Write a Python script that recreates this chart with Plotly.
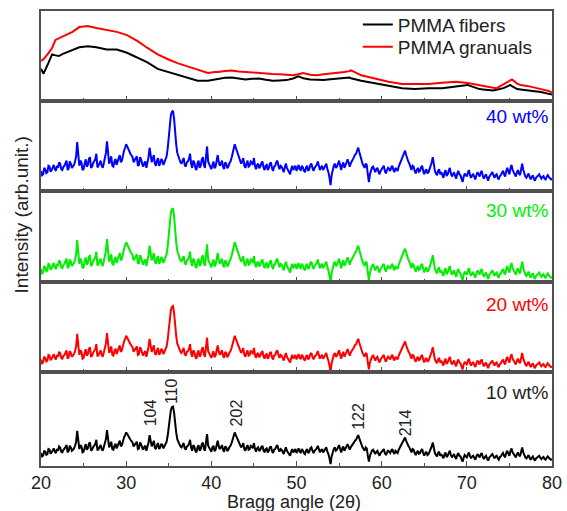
import plotly.graph_objects as go
from plotly.subplots import make_subplots

# ---------------- data ----------------
# PMMA reference patterns (top panel), arbitrary units
pmma_angle = [20.0, 20.3, 20.9, 21.3, 21.7, 22.1, 22.5, 22.9, 23.7, 24.5, 25.5, 26.5, 27.7, 28.9, 30.1,
              31.3, 32.5, 33.7, 34.9, 36.1, 37.3, 38.4, 39.6, 40.4, 40.8, 41.6, 42.4, 43.2, 44.0,
              44.8, 45.6, 46.4, 47.2, 48.0, 48.8, 49.6, 50.2, 50.8, 51.6, 52.4, 53.2, 54.0,
              54.8, 55.6, 56.2, 56.4, 57.6, 59.2, 60.8, 62.4, 63.9, 65.5, 67.1, 68.7, 70.1,
              70.3, 71.5, 71.9, 73.1, 73.5, 74.3, 74.7, 75.1, 75.3, 75.9, 76.3, 77.1, 77.5,
              78.3, 78.7, 79.5, 80.0]
pmma_fibers = [100, 85, 120, 145, 142, 140, 146, 150, 160, 167, 170, 167, 160, 160, 150,
               135, 120, 100, 90, 80, 70, 63, 63, 67, 70, 72, 73, 70, 67,
               69, 70, 66, 63, 64, 65, 70, 77, 71, 67, 66, 65, 68,
               70, 72, 73, 71, 63, 55, 47, 40, 37, 40, 40, 45, 50,
               48, 37, 36, 33, 35, 40, 45, 50, 46, 37, 36, 33, 32,
               30, 28, 23, 20]
pmma_granuals = [125, 130, 150, 165, 190, 195, 200, 205, 215, 230, 233, 227, 220, 215, 205,
                 187, 165, 145, 130, 117, 107, 97, 87, 90, 90, 93, 95, 92, 90,
                 90, 88, 85, 84, 83, 82, 80, 83, 87, 82, 80, 83, 85,
                 88, 90, 93, 95, 80, 70, 60, 53, 53, 53, 57, 60, 56,
                 55, 47, 45, 41, 40, 52, 60, 65, 67, 54, 50, 47, 45,
                 39, 37, 32, 27]

# Composite pattern (same diffractogram shape in all four loadings)
# values on the 0.25 deg grid starting at 20 deg
composite_grid = [
    38, 30, 42, 35, 48, 40, 52, 38, 45, 55, 40, 50, 62, 44, 55, 48,          # 20.00 - 23.75
    60, 105, 50, 58, 42, 65, 52, 70, 48, 60, 78, 50, 62, 45, 68, 107,        # 24.00 - 27.75
    55, 72, 48, 66, 58, 75, 62, 85, 100, 88, 78, 70, 62, 72, 52, 65,         # 28.00 - 31.75
    48, 60, 55, 92, 58, 75, 50, 68, 55, 62, 58, 72, 120, 168, 178, 125,      # 32.00 - 35.75
    80, 65, 55, 68, 48, 60, 78, 45, 58, 40, 62, 50, 70, 45, 95, 52,          # 36.00 - 39.75
    42, 60, 48, 75, 50, 62, 42, 55, 48, 60, 78, 100, 85, 72, 55, 68,         # 40.00 - 43.75
    45, 62, 50, 58, 68, 42, 55, 48, 60, 40, 52, 45, 58, 38, 50, 62,          # 44.00 - 47.75
    42, 48, 35, 55, 40, 30, 50, 45, 38, 52, 40, 46, 35, 50, 42, 55,          # 48.00 - 51.75
    38, 48, 60, 40, 50, 45, 55, 35, 5, 42, 55, 48, 62, 40, 58, 50,           # 52.00 - 55.75
    65, 48, 60, 70, 78, 92, 72, 55, 45, 52, 12, 40, 48, 35, 45, 30,          # 56.00 - 59.75
    42, 50, 32, 45, 38, 50, 35, 42, 48, 58, 72, 85, 65, 55, 40, 48,          # 60.00 - 63.75
    32, 45, 38, 50, 30, 42, 35, 48, 70, 38, 28, 42, 35, 22, 40, 30,          # 64.00 - 67.75
    45, 25, 35, 20, 38, 28, 12, 32, 25, 40, 22, 30, 18, 35, 25, 38,          # 68.00 - 71.75
    20, 30, 15, 28, 35, 22, 30, 18, 28, 38, 25, 45, 30, 52, 35, 25,          # 72.00 - 75.75
    40, 28, 55, 30, 22, 32, 18, 28, 15, 25, 30, 20, 26, 18, 28, 22,          # 76.00 - 79.75
    20,                                                                       # 80.00
]
# values half-way between the grid points (20.125, 20.375, ...)
composite_half = [
    28, 45, 33, 50, 36, 47, 42, 50, 58, 42, 47, 56, 40, 60, 45, 52,
    72, 70, 62, 40, 55, 48, 66, 45, 56, 65, 46, 58, 50, 56, 80, 75,
    62, 50, 60, 52, 68, 58, 78, 92, 95, 80, 74, 58, 68, 50, 70, 55,
    56, 45, 70, 70, 66, 54, 62, 50, 66, 52, 65, 90, 150, 176, 160, 100,
    70, 58, 62, 52, 58, 66, 55, 62, 45, 55, 45, 64, 52, 72, 60, 48,
    55, 44, 62, 58, 55, 48, 58, 44, 56, 68, 90, 92, 78, 62, 60, 50,
    55, 48, 60, 52, 50, 52, 44, 56, 46, 50, 40, 55, 44, 48, 58, 50,
    50, 42, 46, 45, 36, 42, 40, 50, 46, 42, 50, 38, 46, 38, 52, 45,
    45, 52, 48, 46, 40, 52, 42, 22, 28, 50, 45, 56, 50, 52, 45, 58,
    55, 56, 64, 76, 86, 82, 62, 50, 55, 30, 30, 46, 40, 42, 36, 38,
    46, 38, 40, 42, 46, 40, 45, 38, 55, 65, 80, 75, 60, 45, 50, 38,
    40, 36, 46, 38, 38, 32, 42, 58, 50, 32, 38, 30, 28, 34, 26, 38,
    32, 30, 26, 32, 30, 20, 24, 28, 34, 28, 28, 24, 28, 30, 34, 26,
    26, 22, 24, 32, 28, 28, 22, 26, 34, 30, 38, 36, 44, 40, 28, 34,
    32, 42, 40, 25, 28, 24, 24, 20, 22, 28, 24, 24, 20, 24, 24, 18,
]

composite_angle = []
composite_intensity = []
for i, v in enumerate(composite_grid):
    composite_angle.append(20 + 0.25 * i)
    composite_intensity.append(v)
    if i < len(composite_half):
        composite_angle.append(20 + 0.25 * i + 0.125)
        composite_intensity.append(composite_half[i])

loadings = ["40 wt%", "30 wt%", "20 wt%", "10 wt%"]
loading_colors = ["#0000ff", "#00ee00", "#ff0000", "#000000"]

peak_labels = ["104", "110", "202", "122", "214"]
peak_angles = [32.9, 35.4, 42.9, 57.3, 62.8]

x_ticks = [20, 30, 40, 50, 60, 70, 80]

# ---------------- figure ----------------
FONT = "Liberation Sans, Arial, sans-serif"
TXT = "#222222"
AX = "#505050"

fig = make_subplots(rows=5, cols=1, shared_xaxes=True, vertical_spacing=0)

fig.add_trace(go.Scatter(x=pmma_angle, y=pmma_fibers, mode="lines", name="PMMA fibers",
                         line=dict(color="black", width=2), showlegend=True, legend="legend"),
              row=1, col=1)
fig.add_trace(go.Scatter(x=pmma_angle, y=pmma_granuals, mode="lines", name="PMMA granuals",
                         line=dict(color="#ff0000", width=2), showlegend=True, legend="legend2"),
              row=1, col=1)

for i, (lab, col) in enumerate(zip(loadings, loading_colors)):
    fig.add_trace(go.Scatter(x=composite_angle, y=composite_intensity, mode="lines", name=lab,
                             line=dict(color=col, width=2), showlegend=False), row=i + 2, col=1)

# panel layout (paper fractions, top -> bottom)
domains = [[0.8022, 1.0], [0.6043, 0.8022], [0.4043, 0.6043], [0.2065, 0.4043], [0.0, 0.2065]]
y_ranges = [[0, 280], [-9, 201], [8, 218], [5, 241], [-1, 282]]

for r in range(1, 6):
    fig.update_yaxes(domain=domains[r - 1], range=y_ranges[r - 1], showticklabels=False,
                     ticks="", showgrid=False, zeroline=False, showline=True, mirror=True,
                     linecolor=AX, linewidth=1.5, row=r, col=1)
    fig.update_xaxes(range=[20, 80], tickvals=x_ticks, ticks="inside", ticklen=5, tickwidth=1.2,
                     tickcolor=AX, showgrid=False, zeroline=False, showline=True, mirror=True,
                     linecolor=AX, linewidth=1.5,
                     minor=dict(ticks="inside", ticklen=3, tickwidth=1.2, tickcolor=AX,
                                tickvals=[25, 35, 45, 55, 65, 75]),
                     showticklabels=(r == 5),
                     tickfont=dict(family=FONT, size=18, color=TXT), row=r, col=1)

annotations = []
label_offsets = [16, 19, 23, 20]  # px below each panel's top edge
for i, (lab, col) in enumerate(zip(loadings, loading_colors)):
    annotations.append(dict(text=lab, xref="paper", yref=f"y{i + 2} domain", x=0.997,
                            y=1 - label_offsets[i] / 91,
                            xanchor="right", yanchor="middle", showarrow=False,
                            font=dict(family=FONT, size=19, color=col if col != "#000000" else TXT)))

label_y = [0.57, 0.80, 0.56, 0.53, 0.46]
for lab, ang, yy in zip(peak_labels, peak_angles, label_y):
    annotations.append(dict(text=lab, xref="x5", yref="y5 domain", x=ang, y=yy, textangle=-90,
                            xanchor="center", yanchor="middle", showarrow=False,
                            font=dict(family=FONT, size=16, color=TXT)))

annotations.append(dict(text="Bragg angle (2θ)", xref="paper", yref="paper", x=0.495, y=-0.079,
                        xanchor="center", yanchor="middle", showarrow=False,
                        font=dict(family=FONT, size=18, color=TXT)))
annotations.append(dict(text="Intensity (arb.unit.)", xref="paper", yref="paper", x=-0.038, y=0.552,
                        textangle=-90, xanchor="center", yanchor="middle", showarrow=False,
                        font=dict(family=FONT, size=19, color=TXT)))

legend_style = dict(xanchor="left", yanchor="middle", bgcolor="rgba(0,0,0,0)",
                    font=dict(family=FONT, size=19, color=TXT), itemwidth=30, borderwidth=0)
fig.update_layout(
    width=567, height=511,
    margin=dict(l=41, r=15, t=6, b=45),
    paper_bgcolor="white", plot_bgcolor="white",
    annotations=annotations,
    legend=dict(x=0.62, y=0.970, **legend_style),
    legend2=dict(x=0.62, y=0.921, **legend_style),
)

fig.write_html("out.html")
